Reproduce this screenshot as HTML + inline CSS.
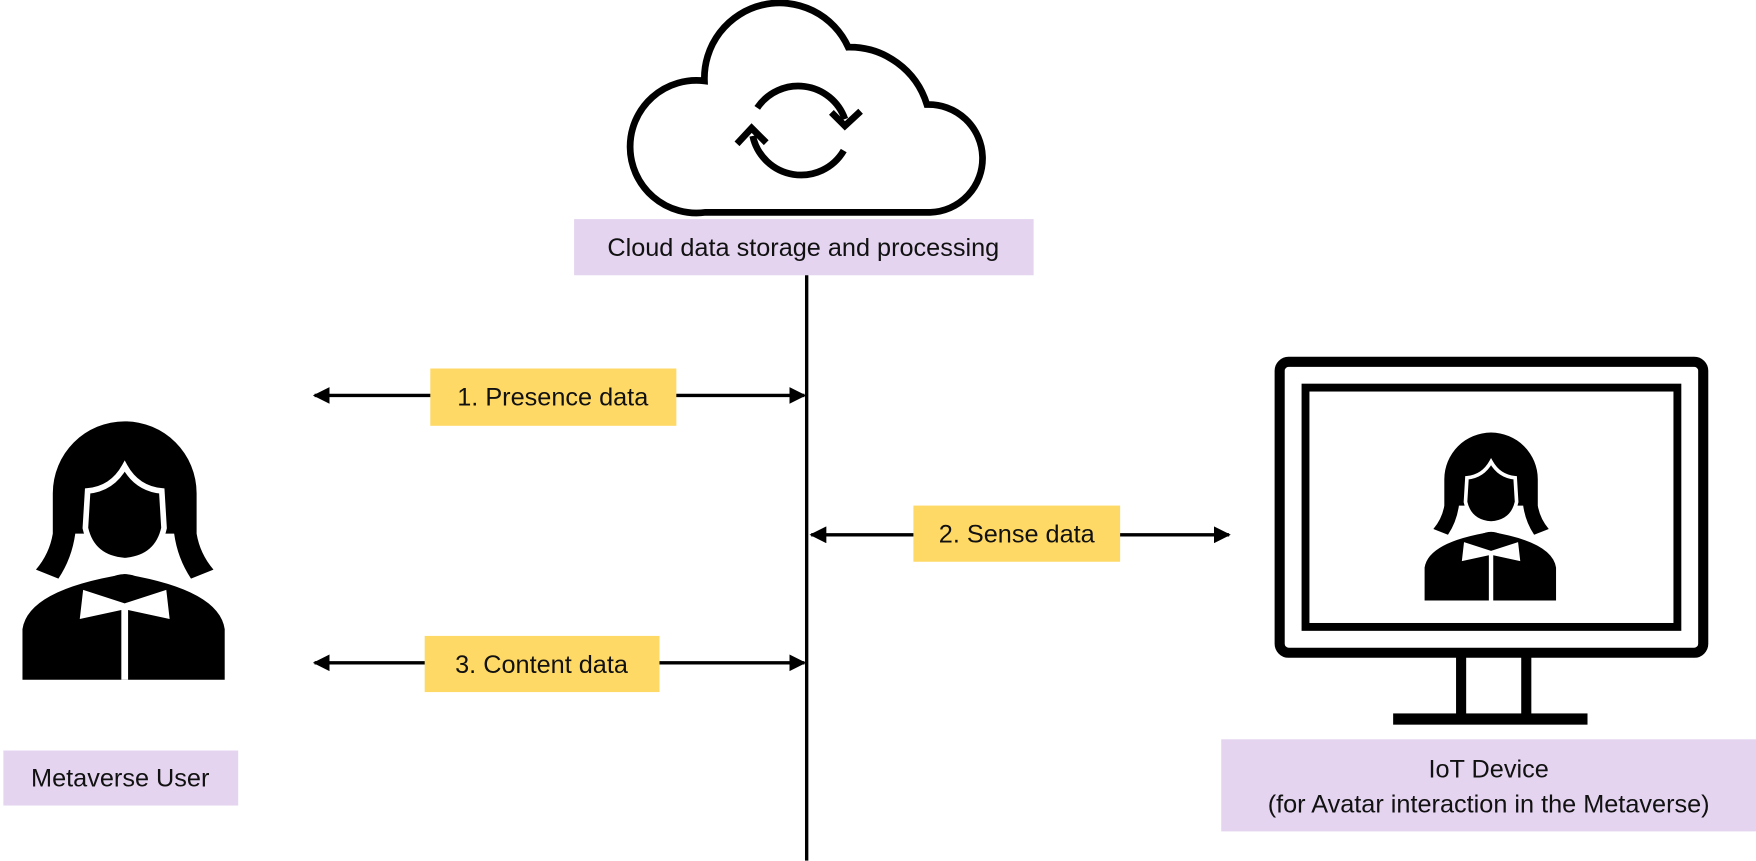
<!DOCTYPE html>
<html><head><meta charset="utf-8"><style>
html,body{margin:0;padding:0;background:#fff;}
svg{display:block;}
text{font-family:"Liberation Sans",sans-serif;font-size:22.5px;fill:#111;}
</style></head><body>
<svg width="1756" height="861" viewBox="0 0 1756 861" xmlns="http://www.w3.org/2000/svg">
<defs>
<marker id="ah" viewBox="0 0 10 10" refX="9" refY="5" markerWidth="5" markerHeight="5" orient="auto-start-reverse">
<path d="M0,0 L10,5 L0,10 Z" fill="#000"/></marker>
<g id="person">
<path d="M27,64 A64,64 0 0 1 155,64 L155,100 Q158,118 170,132 L150,140 Q138,122 135,100 L47,100 Q44,122 32,140 L12,132 Q24,118 27,100 Z" fill="#000"/>
<path d="M58,62 Q80,60 91,40 Q102,60 124,62 L126,95 Q120,122 91,124 Q62,122 56,95 Z" fill="#000" stroke="#fff" stroke-width="5"/>
<path d="M0,230 L0,185 Q5,150 91,136 Q175,150 180,185 L180,230 Z" fill="#000"/>
<path d="M54,150 L91,162 L128,150 L131,176 L94,168 L94,230 L88,230 L88,168 L51,176 Z" fill="#fff"/>
<ellipse cx="91" cy="148" rx="18" ry="12" fill="#000"/>
</g>
</defs>
<g transform="scale(1.1235)">
<!-- cloud -->
<path d="M628,189 A59,59 0 1 1 627,72 A67,67 0 0 1 755,42 A72,72 0 0 1 825,93 A48,48 0 0 1 828,189 Z" fill="none" stroke="#000" stroke-width="6"/>
<path d="M674,96 A44,44 0 0 1 752,106" fill="none" stroke="#000" stroke-width="6"/>
<path d="M740,100 L752,112 L766,99" fill="none" stroke="#000" stroke-width="6"/>
<path d="M751,134 A44,44 0 0 1 670,121" fill="none" stroke="#000" stroke-width="6"/>
<path d="M656,128 L669,114 L682,127" fill="none" stroke="#000" stroke-width="6"/>

<rect x="511" y="195" width="409" height="50" fill="#e4d4f0"/>
<text x="715" y="228" text-anchor="middle">Cloud data storage and processing</text>

<line x1="718" y1="245" x2="718" y2="766" stroke="#000" stroke-width="3"/>

<line x1="280" y1="352" x2="716" y2="352" stroke="#000" stroke-width="3" marker-start="url(#ah)" marker-end="url(#ah)"/>
<rect x="383" y="328" width="219" height="51" fill="#ffd966"/>
<text x="492" y="361" text-anchor="middle">1. Presence data</text>

<line x1="722" y1="476" x2="1094" y2="476" stroke="#000" stroke-width="3" marker-start="url(#ah)" marker-end="url(#ah)"/>
<rect x="813" y="450" width="184" height="50" fill="#ffd966"/>
<text x="905" y="483" text-anchor="middle">2. Sense data</text>

<line x1="280" y1="590" x2="716" y2="590" stroke="#000" stroke-width="3" marker-start="url(#ah)" marker-end="url(#ah)"/>
<rect x="378" y="566" width="209" height="50" fill="#ffd966"/>
<text x="482" y="599" text-anchor="middle">3. Content data</text>

<use href="#person" transform="translate(20,375)"/>
<rect x="3" y="668" width="209" height="49" fill="#e4d4f0"/>
<text x="107" y="700" text-anchor="middle">Metaverse User</text>

<!-- monitor -->
<rect x="1139" y="322" width="377" height="259" rx="8" fill="none" stroke="#000" stroke-width="9"/>
<rect x="1162" y="345" width="331" height="213" fill="none" stroke="#000" stroke-width="7"/>
<rect x="1296" y="583" width="9" height="55" fill="#000"/>
<rect x="1354" y="583" width="9" height="55" fill="#000"/>
<rect x="1240" y="635" width="173" height="10" fill="#000"/>
<use href="#person" transform="translate(1268,385) scale(0.65)"/>

<rect x="1087" y="658" width="476" height="82" fill="#e4d4f0"/>
<text x="1325" y="692" text-anchor="middle">IoT Device</text>
<text x="1325" y="723" text-anchor="middle">(for Avatar interaction in the Metaverse)</text>
</g>
</svg>
</body></html>
